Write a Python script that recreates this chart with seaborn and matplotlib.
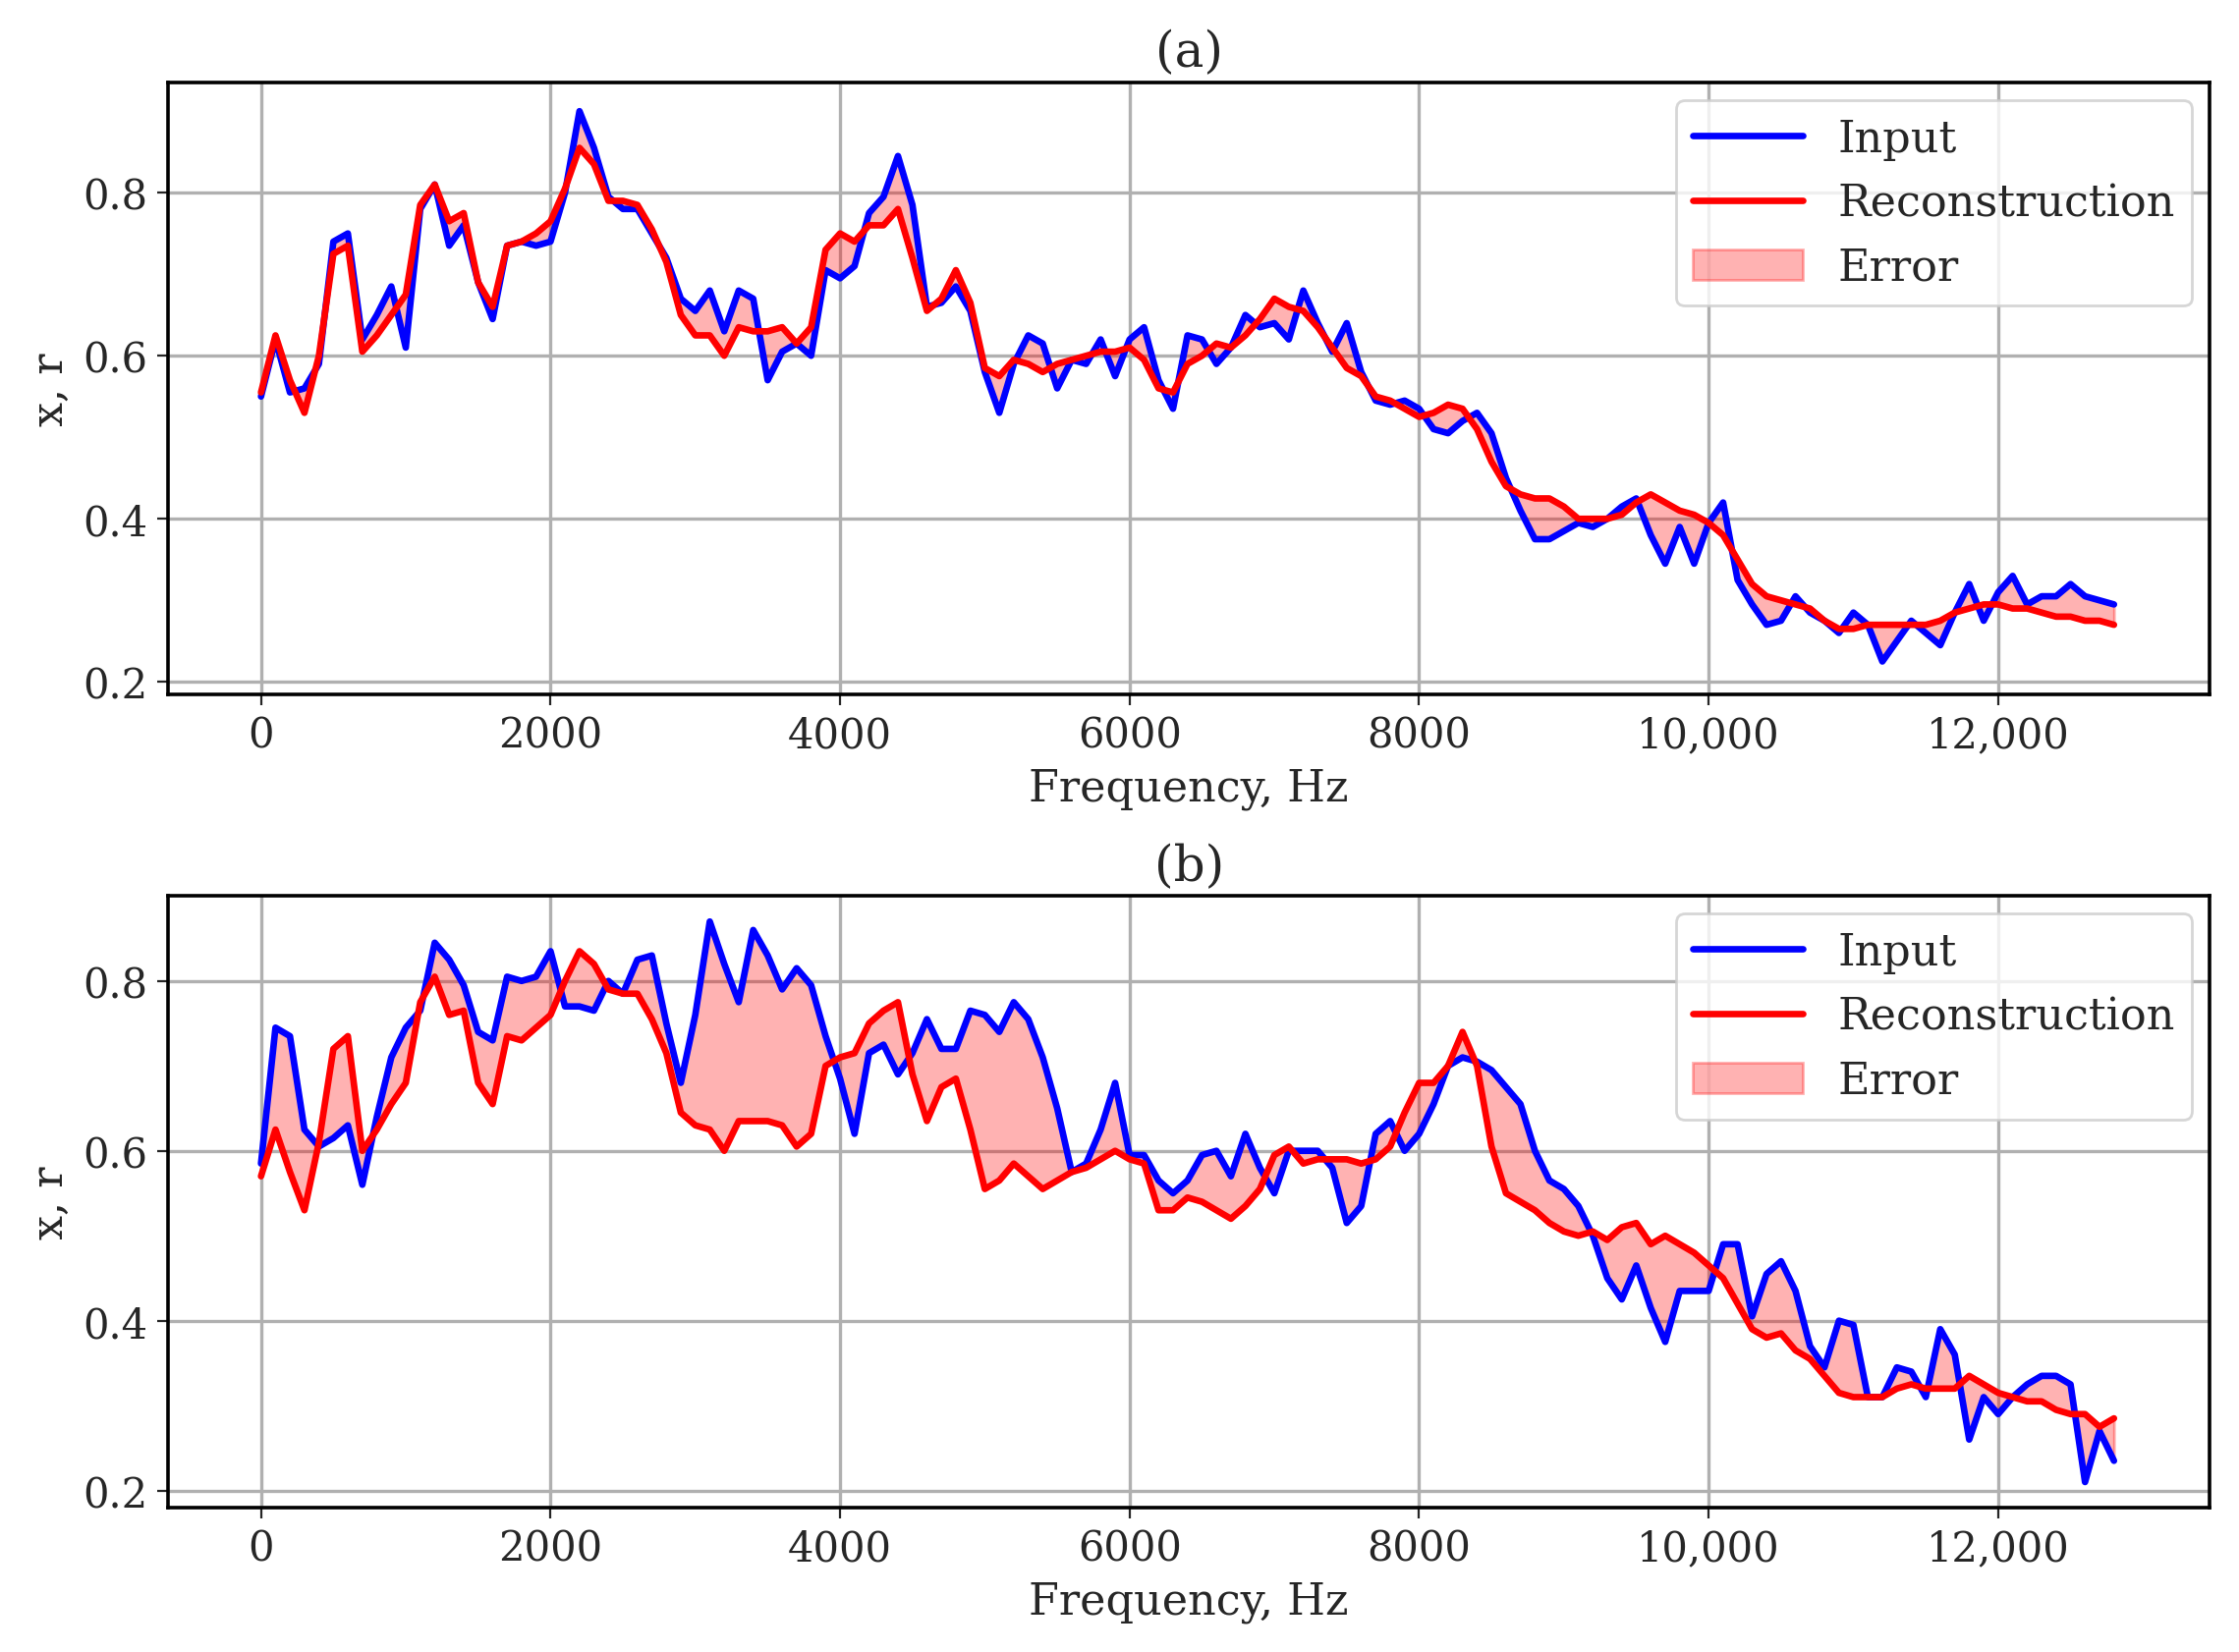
import numpy as np
import pandas as pd
import matplotlib
matplotlib.use("Agg")
import matplotlib.pyplot as plt
import seaborn as sns
from matplotlib.ticker import FuncFormatter

freq = list(range(0, 12801, 100))

input_a = [0.55,0.62,0.555,0.56,0.59,0.74,0.75,0.62,0.65,0.685,0.61,0.78,0.81,0.735,0.76,0.69,0.645,0.735,0.74,0.735,
           0.74,0.80,0.90,0.855,0.795,0.78,0.78,0.75,0.72,0.67,0.655,0.68,0.63,0.68,0.67,0.57,0.605,0.615,0.60,0.705,
           0.695,0.71,0.775,0.795,0.845,0.785,0.66,0.665,0.685,0.655,0.58,0.53,0.59,0.625,0.615,0.56,0.595,0.59,0.62,0.575,
           0.62,0.635,0.57,0.535,0.625,0.62,0.59,0.61,0.65,0.635,0.64,0.62,0.68,0.64,0.605,0.64,0.58,0.545,0.54,0.545,
           0.535,0.51,0.505,0.52,0.53,0.505,0.45,0.41,0.375,0.375,0.385,0.395,0.39,0.40,0.415,0.425,0.38,0.345,0.39,0.345,
           0.395,0.42,0.325,0.295,0.27,0.275,0.305,0.285,0.275,0.26,0.285,0.27,0.225,0.25,0.275,0.26,0.245,0.285,0.32,0.275,
           0.31,0.33,0.295,0.305,0.305,0.32,0.305,0.30,0.295]
recon_a = [0.555,0.625,0.57,0.53,0.60,0.725,0.735,0.605,0.625,0.65,0.675,0.785,0.81,0.765,0.775,0.69,0.66,0.735,0.74,0.75,
           0.765,0.805,0.855,0.835,0.79,0.79,0.785,0.755,0.715,0.65,0.625,0.625,0.60,0.635,0.63,0.63,0.635,0.615,0.635,0.73,
           0.75,0.74,0.76,0.76,0.78,0.72,0.655,0.67,0.705,0.665,0.585,0.575,0.595,0.59,0.58,0.59,0.595,0.60,0.605,0.605,
           0.61,0.595,0.56,0.555,0.59,0.60,0.615,0.61,0.625,0.645,0.67,0.66,0.655,0.635,0.61,0.585,0.575,0.55,0.545,0.535,
           0.525,0.53,0.54,0.535,0.51,0.47,0.44,0.43,0.425,0.425,0.415,0.40,0.40,0.40,0.405,0.42,0.43,0.42,0.41,0.405,
           0.395,0.38,0.35,0.32,0.305,0.30,0.295,0.29,0.275,0.265,0.265,0.27,0.27,0.27,0.27,0.27,0.275,0.285,0.29,0.295,
           0.295,0.29,0.29,0.285,0.28,0.28,0.275,0.275,0.27]
input_b = [0.585,0.745,0.735,0.625,0.605,0.615,0.63,0.56,0.64,0.71,0.745,0.765,0.845,0.825,0.795,0.74,0.73,0.805,0.80,0.805,
           0.835,0.77,0.77,0.765,0.80,0.785,0.825,0.83,0.75,0.68,0.76,0.87,0.82,0.775,0.86,0.83,0.79,0.815,0.795,0.735,
           0.685,0.62,0.715,0.725,0.69,0.715,0.755,0.72,0.72,0.765,0.76,0.74,0.775,0.755,0.71,0.65,0.575,0.585,0.625,0.68,
           0.595,0.595,0.565,0.55,0.565,0.595,0.60,0.57,0.62,0.58,0.55,0.60,0.60,0.60,0.58,0.515,0.535,0.62,0.635,0.60,
           0.62,0.655,0.70,0.71,0.705,0.695,0.675,0.655,0.60,0.565,0.555,0.535,0.50,0.45,0.425,0.465,0.415,0.375,0.435,0.435,
           0.435,0.49,0.49,0.405,0.455,0.47,0.435,0.37,0.345,0.40,0.395,0.31,0.31,0.345,0.34,0.31,0.39,0.36,0.26,0.31,
           0.29,0.31,0.325,0.335,0.335,0.325,0.21,0.27,0.235]
recon_b = [0.57,0.625,0.575,0.53,0.61,0.72,0.735,0.60,0.625,0.655,0.68,0.775,0.805,0.76,0.765,0.68,0.655,0.735,0.73,0.745,
           0.76,0.80,0.835,0.82,0.79,0.785,0.785,0.755,0.715,0.645,0.63,0.625,0.60,0.635,0.635,0.635,0.63,0.605,0.62,0.70,
           0.71,0.715,0.75,0.765,0.775,0.69,0.635,0.675,0.685,0.625,0.555,0.565,0.585,0.57,0.555,0.565,0.575,0.58,0.59,0.60,
           0.59,0.585,0.53,0.53,0.545,0.54,0.53,0.52,0.535,0.555,0.595,0.605,0.585,0.59,0.59,0.59,0.585,0.59,0.605,0.645,
           0.68,0.68,0.70,0.74,0.70,0.605,0.55,0.54,0.53,0.515,0.505,0.50,0.505,0.495,0.51,0.515,0.49,0.50,0.49,0.48,
           0.465,0.45,0.42,0.39,0.38,0.385,0.365,0.355,0.335,0.315,0.31,0.31,0.31,0.32,0.325,0.32,0.32,0.32,0.335,0.325,
           0.315,0.31,0.305,0.305,0.295,0.29,0.29,0.275,0.285]

titles = ["(a)", "(b)"]

sns.set_style("whitegrid")
plt.rcParams["font.family"] = "DejaVu Serif"

fig, axes = plt.subplots(2, 1, figsize=(11.395, 8.415), dpi=200)
for ax, inp, rec, t in zip(axes, [input_a, input_b], [recon_a, recon_b], titles):
    df = pd.DataFrame({"f": freq, "x": inp, "r": rec})
    ax.fill_between(df["f"], df["x"], df["r"], color="red", alpha=0.3, label="Error", zorder=2)
    sns.lineplot(data=df, x="f", y="x", ax=ax, color="blue", lw=2.4, label="Input", zorder=3)
    sns.lineplot(data=df, x="f", y="r", ax=ax, color="red", lw=2.4, label="Reconstruction", zorder=4)
    h, l = ax.get_legend_handles_labels()
    order = [l.index("Input"), l.index("Reconstruction"), l.index("Error")]
    ax.legend([h[i] for i in order], [l[i] for i in order], loc="upper right", fontsize=16,
              frameon=True, edgecolor="#cccccc", handlelength=2.5, borderaxespad=0.4)
    ax.set_title(t, fontsize=18)
    ax.set_xlabel("Frequency, Hz", fontsize=16)
    ax.set_ylabel("x, r", fontsize=16)
    ax.set_xlim(-640, 13460)
    ax.set_yticks([0.2, 0.4, 0.6, 0.8])
    ax.set_xticks(range(0, 12001, 2000))
    ax.xaxis.set_major_formatter(FuncFormatter(lambda v, p: f"{int(v):,}" if v >= 10000 else f"{int(v)}"))
    ax.tick_params(labelsize=15, length=4, left=True, bottom=True)
    ax.grid(True, color="#b0b0b0", lw=1.2)
    for s in ax.spines.values():
        s.set_color("black")
        s.set_linewidth(1.3)
axes[0].set_ylim(0.185, 0.935)
axes[1].set_ylim(0.18, 0.90)
fig.tight_layout(h_pad=1.2)
fig.savefig("out.png", dpi=200)
